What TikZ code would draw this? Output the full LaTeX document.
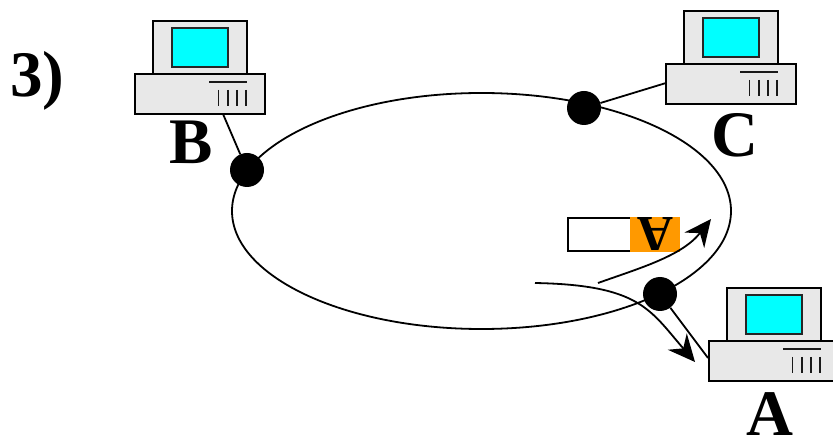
\documentclass[tikz,border=0pt]{standalone}
\usepackage{fontspec}
\setmainfont{Liberation Serif}
\usetikzlibrary{arrows.meta,shapes.geometric}
\definecolor{boxgray}{RGB}{232,232,232}
\definecolor{screencyan}{RGB}{0,255,255}
\definecolor{packetorange}{RGB}{255,153,0}
\tikzset{
  caselook/.style={draw=black,line width=1.8pt,fill=boxgray},
  screenlook/.style={draw=black!85,line width=1.8pt,fill=screencyan},
  ventlook/.style={draw=black!90,line width=1.7pt},
  wirelook/.style={draw=black,line width=1.8pt},
  tapdot/.style={circle,fill=black,draw=none,minimum size=34pt,inner sep=0pt},
  biglabel/.style={font=\fontsize{65}{65}\selectfont\bfseries,inner sep=0pt,text=black},
  flowarrow/.style={draw=black,line width=1.8pt,-{Stealth[length=27pt,width=25pt,inset=9pt]}},
  pc/.pic={
    \path[caselook] (153,21) rectangle (247,74);
    \path[screenlook] (172,28) rectangle (228,67);
    \path[caselook] (135,74) rectangle (265,114);
    \draw[ventlook] (209,82) -- (247,82);
    \foreach \vx in {218.5,228,237,246} \draw[ventlook] (\vx,90) -- (\vx,106);
  }
}
\begin{document}
\begin{tikzpicture}[x=1pt,y=-1pt]
\useasboundingbox (0,0) rectangle (833,438);
% ring
\node[draw=black,line width=1.8pt,ellipse,minimum width=499pt,minimum height=236pt,inner sep=0pt] (ring) at (481.5,211) {};
% computers
\pic at (0,0) {pc};
\pic at (531,-10) {pc};
\begin{scope}
\clip (0,0) rectangle (833,438);
\pic at (574,267) {pc};
\end{scope}
\coordinate (pcB) at (223,114);
\coordinate (pcC) at (666,83);
\coordinate (pcA) at (708,358);
% taps
\node[tapdot] (tapB) at (247,170) {};
\node[tapdot] (tapC) at (584,108) {};
\node[tapdot] (tapA) at (660,294) {};
\draw[wirelook] (pcB) -- (tapB);
\draw[wirelook] (pcC) -- (tapC);
\draw[wirelook] (pcA) -- (tapA);
% packet
\node[draw=black,line width=1.8pt,fill=white,minimum width=63pt,minimum height=33pt,inner sep=0pt,anchor=west] (packet) at (567,234.5) {};
\node[fill=packetorange,minimum width=50pt,minimum height=35pt,inner sep=0pt,anchor=west] (packethead) at (630,234.5) {};
\node[font=\fontsize{50}{50}\selectfont\bfseries,inner sep=0pt,rotate=180] (packetA) at (655,234) {A};
% flows
\coordinate (inS) at (598,283);
\coordinate (inE) at (711,219);
\coordinate (outS) at (535,283);
\coordinate (outE) at (695,362);
\draw[flowarrow] (inS) .. controls (640,268) and (682,256) .. (inE);
\draw[flowarrow] (outS) .. controls (640,285) and (650,310) .. (outE);
% labels
\node[biglabel,anchor=base] (labelB) at (191.5,164) {B};
\node[biglabel,anchor=base] (labelC) at (735,157) {C};
\node[biglabel,anchor=base] (labelA) at (769.5,435) {A};
\node[biglabel,anchor=base west] (labelN) at (10,97) {3)};
\end{tikzpicture}
\end{document}
